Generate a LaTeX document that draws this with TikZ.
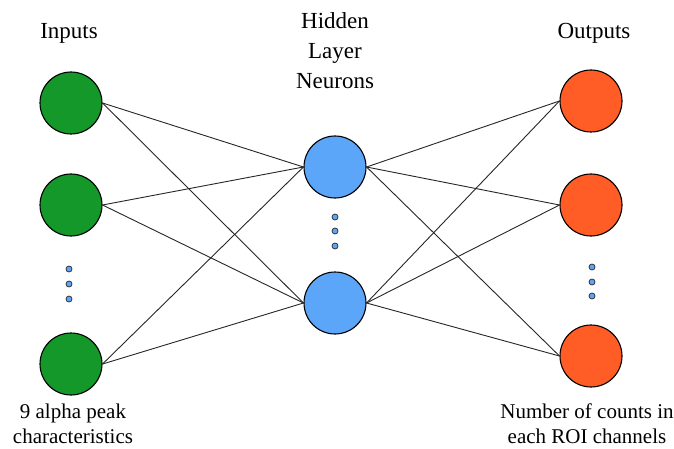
\documentclass[tikz,border=0pt]{standalone}
\usepackage{fontspec}
\setmainfont{Liberation Serif}
\definecolor{ingreen}{RGB}{20,152,42}
\definecolor{hidblue}{RGB}{92,166,250}
\definecolor{outorange}{RGB}{255,92,38}
\tikzset{
  neuron/.style={circle, draw=black, line width=1.1pt, minimum size=62pt, inner sep=0pt},
  dotsym/.style={circle, draw=black!80, fill=hidblue, line width=0.8pt, minimum size=6pt, inner sep=0pt},
  edge/.style={draw=black!85, line width=0.9pt},
  txtlbl/.style={font=\rmfamily\fontsize{21}{25}\selectfont, align=center},
  headlbl/.style={font=\rmfamily\fontsize{23}{30}\selectfont, align=center}
}
\begin{document}
\begin{tikzpicture}[x=1pt,y=-1pt]
\useasboundingbox (0,0) rectangle (674,449);

% neurons
\node[neuron, fill=ingreen] (in1) at (71,103) {};
\node[neuron, fill=ingreen] (in2) at (71,205) {};
\node[neuron, fill=ingreen] (in3) at (71,364) {};

\node[neuron, fill=hidblue] (hid1) at (335,167) {};
\node[neuron, fill=hidblue] (hid2) at (335,303) {};

\node[neuron, fill=outorange] (out1) at (591,101) {};
\node[neuron, fill=outorange] (out2) at (591,205) {};
\node[neuron, fill=outorange] (out3) at (591,356) {};

% connections
\foreach \i in {1,2,3} {
    \foreach \h in {1,2} {
        \draw[edge] (in\i.east) -- (hid\h.west);
        \draw[edge] (hid\h.east) -- (out\i.west);
    }
}

% dots
\foreach \y [count=\k] in {269,284,299} {
    \node[dotsym] (dotin\k) at (69,\y) {};
}
\foreach \y [count=\k] in {217,231,246} {
    \node[dotsym] (dothid\k) at (335,\y) {};
}
\foreach \y [count=\k] in {267,282,296} {
    \node[dotsym] (dotout\k) at (592,\y) {};
}

% labels
\node[headlbl] (intitle) at (69,33) {Inputs};
\node[headlbl] (hidtitle) at (335,51) {Hidden\\Layer\\Neurons};
\node[headlbl] (outtitle) at (594,33) {Outputs};
\node[txtlbl] (indesc) at (73,424) {9 alpha peak\\characteristics};
\node[txtlbl] (outdesc) at (587,424) {Number of counts in\\each ROI channels};

\end{tikzpicture}
\end{document}
